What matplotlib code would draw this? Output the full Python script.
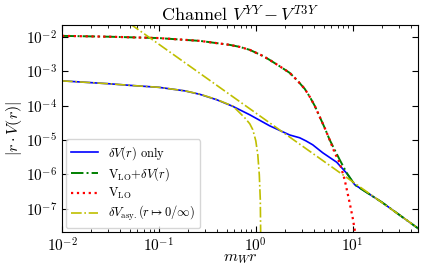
import numpy as np
import matplotlib
matplotlib.use("Agg")
import matplotlib.pyplot as plt
from matplotlib.ticker import NullLocator, FixedLocator

plt.rcParams['font.family'] = 'serif'
plt.rcParams['font.serif'] = ['cmr10']
plt.rcParams['mathtext.fontset'] = 'cm'
plt.rcParams['axes.formatter.use_mathtext'] = True

# values
x_lo = [0.01, 0.0313, 0.1, 0.265, 0.54, 0.684, 0.867, 1.18, 1.39, 1.77, 2.24, 2.65,
        3.2, 3.61, 4.06, 4.57, 5.14, 5.79]
y_lo = [1.07e-2, 1.01e-2, 9.23e-3, 7.65e-3, 5.85e-3, 5.11e-3, 4.19e-3, 2.8e-3, 2.14e-3,
        1.39e-3, 8.98e-4, 5.6e-4, 3.08e-4, 1.8e-4, 9.87e-5, 4.72e-5, 2.26e-5, 1.01e-5]

x_green_tail = [6.52, 7.35, 8.67, 10.5, 20.0, 50.0]
y_green_tail = [5.19e-6, 2.66e-6, 1.11e-6, 5.0e-7, 1.55e-7, 2.4e-8]

x_red_tail = [6.52, 7.35, 8.27, 9.31, 10.0, 10.5, 11.0]
y_red_tail = [4.25e-6, 2.17e-6, 6.97e-7, 1.49e-7, 5.47e-8, 2.45e-8, 1.1e-8]

x_dv = [0.01, 0.0313, 0.0503, 0.1, 0.185, 0.265, 0.396, 0.579, 0.867, 1.39, 1.90, 2.24,
        2.84, 3.3, 3.87, 4.91, 6.84, 8.67, 10.5, 20.0, 50.0]
y_dv = [5.26e-4, 4.31e-4, 3.89e-4, 3.41e-4, 2.69e-4, 2.13e-4, 1.48e-4, 9.54e-5, 5.41e-5,
        2.59e-5, 1.73e-5, 1.4e-5, 1.16e-5, 9.4e-6, 7.25e-6, 4.25e-6, 2.26e-6, 1.08e-6,
        5.0e-7, 1.55e-7, 2.4e-8]

x_asy0 = [0.01, 0.0313, 0.0503, 0.1, 0.185, 0.265, 0.396, 0.579, 0.637, 0.771, 0.867,
          0.931, 1.0, 1.049, 1.087, 1.113, 1.126]
y_asy0 = [5.26e-4, 4.31e-4, 3.89e-4, 3.41e-4, 2.7e-4, 2.15e-4, 1.5e-4, 9.7e-5, 7.5e-5,
          4.4e-5, 2.96e-5, 2.0e-5, 9.5e-6, 3.7e-6, 9.7e-7, 1.83e-7, 1.0e-8]

x_asyinf = [0.05, 50.0]
y_asyinf = [2.44e-2, 2.44e-8]

y_ticks = [1e-7, 1e-6, 1e-5, 1e-4, 1e-3, 1e-2]
x_ticks = [1e-2, 1e-1, 1e0, 1e1]

fig = plt.figure(figsize=(4.22, 2.73), dpi=100)
ax = fig.add_axes([0.147, 0.150, 0.843, 0.758])

ax.plot(x_dv, y_dv, 'b-', lw=1.2, label=r'$\delta V(r)$ only')
ax.plot(x_lo + x_green_tail, y_lo + y_green_tail, 'g-.', lw=1.4,
        label=r'V$_{\rm LO}$+$\delta V(r)$')
ax.plot(x_lo + x_red_tail, y_lo + y_red_tail, 'r:', lw=1.6, label=r'V$_{\rm LO}$')
ax.plot(x_asy0, y_asy0, 'y-.', lw=1.2, label=r'$\delta V_{\rm asy.}(r\mapsto 0/\infty)$')
ax.plot(x_asyinf, y_asyinf, 'y-.', lw=1.2)

ax.set_xscale('log')
ax.set_yscale('log')
ax.set_xlim(1e-2, 47)
ax.set_ylim(2.1e-8, 2.2e-2)
ax.yaxis.set_major_locator(FixedLocator(y_ticks))
ax.yaxis.set_minor_locator(NullLocator())
ax.xaxis.set_major_locator(FixedLocator(x_ticks))

ax.tick_params(which='both', direction='in', top=True, right=True, labelsize=11)
ax.tick_params(which='major', length=4.5)
ax.tick_params(which='minor', length=2.5)

ax.set_xlabel(r'$m_W r$', fontsize=11.5, labelpad=-2)
ax.set_ylabel(r'$|r\cdot V(r)|$', fontsize=11.5, labelpad=1)
ax.set_title(r'Channel $V^{YY}-V^{T3Y}$', fontsize=13, pad=3)

ax.legend(loc='lower left', fontsize=9, handlelength=2.2, framealpha=0.8,
          borderaxespad=0.3, labelspacing=0.25)

fig.savefig('out.png', dpi=100)
